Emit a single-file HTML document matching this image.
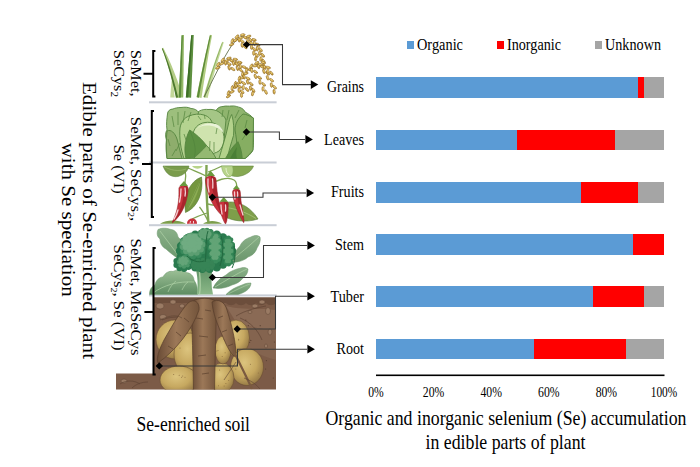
<!DOCTYPE html>
<html><head><meta charset="utf-8"><style>
html,body{margin:0;padding:0;background:#fff;width:700px;height:467px;overflow:hidden}
svg{display:block;font-family:"Liberation Serif", serif;}
</style></head><body>
<svg width="700" height="467" viewBox="0 0 700 467">
<rect width="700" height="467" fill="#fff"/>
<rect x="376" y="77" width="262" height="21" fill="#5B9BD5"/>
<rect x="638" y="77" width="6" height="21" fill="#FF0000"/>
<rect x="644" y="77" width="20" height="21" fill="#A5A5A5"/>
<rect x="376" y="130" width="141" height="20" fill="#5B9BD5"/>
<rect x="517" y="130" width="98" height="20" fill="#FF0000"/>
<rect x="615" y="130" width="49" height="20" fill="#A5A5A5"/>
<rect x="376" y="182" width="205" height="21" fill="#5B9BD5"/>
<rect x="581" y="182" width="57" height="21" fill="#FF0000"/>
<rect x="638" y="182" width="26" height="21" fill="#A5A5A5"/>
<rect x="376" y="234" width="257" height="21" fill="#5B9BD5"/>
<rect x="633" y="234" width="31" height="21" fill="#FF0000"/>
<rect x="376" y="286" width="217" height="21" fill="#5B9BD5"/>
<rect x="593" y="286" width="51" height="21" fill="#FF0000"/>
<rect x="644" y="286" width="20" height="21" fill="#A5A5A5"/>
<rect x="376" y="339" width="158" height="20" fill="#5B9BD5"/>
<rect x="534" y="339" width="92" height="20" fill="#FF0000"/>
<rect x="626" y="339" width="38" height="20" fill="#A5A5A5"/>
<rect x="376" y="374.5" width="288.5" height="1.6" fill="#000"/>
<text x="376.0" y="397" font-size="14.5" text-anchor="middle" textLength="15.5" lengthAdjust="spacingAndGlyphs" >0%</text>
<text x="433.6" y="397" font-size="14.5" text-anchor="middle" textLength="21.5" lengthAdjust="spacingAndGlyphs" >20%</text>
<text x="491.2" y="397" font-size="14.5" text-anchor="middle" textLength="21.5" lengthAdjust="spacingAndGlyphs" >40%</text>
<text x="548.8" y="397" font-size="14.5" text-anchor="middle" textLength="21.5" lengthAdjust="spacingAndGlyphs" >60%</text>
<text x="606.4" y="397" font-size="14.5" text-anchor="middle" textLength="21.5" lengthAdjust="spacingAndGlyphs" >80%</text>
<text x="664.0" y="397" font-size="14.5" text-anchor="middle" textLength="26.5" lengthAdjust="spacingAndGlyphs" >100%</text>
<rect x="407" y="41" width="7" height="8" fill="#5B9BD5"/>
<rect x="497" y="41" width="7" height="8" fill="#FF0000"/>
<rect x="595" y="41" width="7" height="8" fill="#A5A5A5"/>
<text x="417" y="50" font-size="16.5" text-anchor="start" textLength="46" lengthAdjust="spacingAndGlyphs" >Organic</text>
<text x="507" y="50" font-size="16.5" text-anchor="start" textLength="54" lengthAdjust="spacingAndGlyphs" >Inorganic</text>
<text x="605" y="50" font-size="16.5" text-anchor="start" textLength="56" lengthAdjust="spacingAndGlyphs" >Unknown</text>
<text x="327" y="92" font-size="16.5" text-anchor="start" textLength="37" lengthAdjust="spacingAndGlyphs" >Grains</text>
<text x="324" y="144.5" font-size="16.5" text-anchor="start" textLength="40" lengthAdjust="spacingAndGlyphs" >Leaves</text>
<text x="331" y="197" font-size="16.5" text-anchor="start" textLength="33" lengthAdjust="spacingAndGlyphs" >Fruits</text>
<text x="335" y="249.5" font-size="16.5" text-anchor="start" textLength="29" lengthAdjust="spacingAndGlyphs" >Stem</text>
<text x="330.5" y="301.5" font-size="16.5" text-anchor="start" textLength="33.5" lengthAdjust="spacingAndGlyphs" >Tuber</text>
<text x="336.5" y="354" font-size="16.5" text-anchor="start" textLength="27.5" lengthAdjust="spacingAndGlyphs" >Root</text>
<text x="325.5" y="425" font-size="21.5" text-anchor="start" textLength="361" lengthAdjust="spacingAndGlyphs" >Organic and inorganic selenium (Se) accumulation</text>
<text x="425.5" y="449" font-size="21.5" text-anchor="start" textLength="160" lengthAdjust="spacingAndGlyphs" >in edible parts of plant</text>
<text x="136.5" y="430.5" font-size="20.3" text-anchor="start" textLength="113.5" lengthAdjust="spacingAndGlyphs" >Se-enriched soil</text>
<rect x="149" y="101.3" width="127.6" height="2.0" fill="#C9CED6"/>
<rect x="149" y="161.5" width="127.6" height="2.0" fill="#C9CED6"/>
<rect x="149" y="224.2" width="127.6" height="2.0" fill="#C9CED6"/>
<rect x="149" y="294.4" width="127.6" height="2.0" fill="#C9CED6"/>
<path d="M172.6,74.0 L172.4,75.7 L172.1,77.4 L171.9,79.1 L171.7,80.7 L171.5,82.3 L171.4,83.8 L171.2,85.4 L171.1,86.8 L170.9,88.3 L170.8,89.7 L170.7,91.1 L170.6,92.5 L170.5,93.8 L170.4,95.1 L170.3,96.4 L170.3,97.6 L174.7,97.4 L174.6,96.2 L174.4,95.0 L174.3,93.7 L174.1,92.4 L174.0,91.1 L173.9,89.8 L173.8,88.3 L173.7,86.9 L173.6,85.4 L173.6,83.9 L173.5,82.4 L173.5,80.8 L173.4,79.1 L173.4,77.5 L173.4,75.8 L173.4,74.0 Z" fill="#C4D89A"/>
<path d="M161.8,48.3 L162.9,51.1 L164.0,54.0 L165.0,56.9 L166.0,59.8 L167.0,62.8 L168.0,65.9 L168.9,68.9 L169.9,72.0 L170.8,75.2 L171.6,78.4 L172.5,81.6 L173.3,84.8 L174.1,88.1 L174.9,91.5 L175.6,94.9 L176.4,98.3 L182.6,96.7 L181.6,93.3 L180.5,89.9 L179.4,86.6 L178.3,83.3 L177.2,80.1 L176.0,76.9 L174.8,73.8 L173.6,70.7 L172.4,67.7 L171.2,64.7 L169.9,61.7 L168.6,58.8 L167.3,56.0 L165.9,53.2 L164.6,50.4 L163.2,47.7 Z" fill="#B4CD86"/>
<path d="M161.9,48.7 L163.0,51.4 L164.0,54.1 L165.0,57.0 L165.9,59.8 L166.9,62.7 L167.8,65.7 L168.7,68.7 L169.6,71.7 L170.5,74.8 L171.3,77.9 L172.1,81.1 L172.9,84.4 L173.7,87.6 L174.5,91.0 L175.2,94.3 L175.9,97.7 L178.1,97.3 L177.3,93.9 L176.4,90.5 L175.6,87.2 L174.7,83.9 L173.8,80.7 L172.9,77.5 L172.0,74.4 L171.0,71.3 L170.1,68.3 L169.1,65.3 L168.1,62.3 L167.0,59.4 L166.0,56.6 L164.9,53.8 L163.8,51.0 L162.7,48.3 Z" fill="#4E7A2E"/>
<path d="M181.6,35.0 L181.4,38.8 L181.3,42.7 L181.1,46.6 L180.9,50.5 L180.8,54.4 L180.6,58.3 L180.4,62.2 L180.3,66.1 L180.1,70.0 L179.9,73.9 L179.7,77.8 L179.5,81.7 L179.4,85.6 L179.2,89.6 L179.0,93.5 L178.8,97.4 L183.2,97.6 L183.3,93.6 L183.3,89.7 L183.4,85.8 L183.4,81.8 L183.5,77.9 L183.5,74.0 L183.6,70.1 L183.6,66.2 L183.7,62.3 L183.7,58.4 L183.8,54.5 L183.8,50.6 L183.9,46.7 L183.9,42.8 L184.0,38.9 L184.0,35.0 Z" fill="#94B868"/>
<path d="M181.6,35.5 L181.4,39.3 L181.2,43.1 L181.1,46.9 L180.9,50.8 L180.7,54.6 L180.5,58.5 L180.3,62.3 L180.2,66.2 L180.0,70.1 L179.8,74.0 L179.6,77.9 L179.4,81.8 L179.2,85.7 L179.1,89.6 L178.9,93.5 L178.7,97.5 L180.9,97.5 L181.0,93.6 L181.1,89.7 L181.3,85.8 L181.4,81.8 L181.5,77.9 L181.6,74.1 L181.7,70.2 L181.8,66.3 L182.0,62.4 L182.1,58.5 L182.2,54.7 L182.3,50.8 L182.4,47.0 L182.6,43.2 L182.7,39.3 L182.8,35.5 Z" fill="#5A8A3A"/>
<path d="M191.2,34.9 L190.9,38.8 L190.5,42.7 L190.2,46.5 L189.9,50.4 L189.5,54.3 L189.2,58.2 L188.9,62.1 L188.6,66.0 L188.2,69.9 L187.9,73.8 L187.6,77.7 L187.2,81.6 L186.9,85.6 L186.6,89.5 L186.2,93.4 L185.9,97.3 L191.1,97.7 L191.3,93.7 L191.4,89.8 L191.6,85.9 L191.8,81.9 L191.9,78.0 L192.1,74.1 L192.3,70.2 L192.4,66.2 L192.6,62.3 L192.8,58.4 L193.0,54.5 L193.1,50.6 L193.3,46.7 L193.5,42.9 L193.6,39.0 L193.8,35.1 Z" fill="#5E9040"/>
<path d="M191.2,35.5 L190.9,39.3 L190.5,43.1 L190.2,46.9 L189.9,50.8 L189.6,54.6 L189.2,58.5 L188.9,62.3 L188.6,66.2 L188.2,70.1 L187.9,73.9 L187.5,77.8 L187.2,81.7 L186.8,85.6 L186.5,89.6 L186.2,93.5 L185.8,97.4 L188.2,97.6 L188.5,93.7 L188.7,89.7 L189.0,85.8 L189.3,81.9 L189.6,78.0 L189.8,74.1 L190.1,70.2 L190.3,66.3 L190.6,62.4 L190.9,58.6 L191.1,54.7 L191.4,50.9 L191.6,47.0 L191.9,43.2 L192.1,39.4 L192.4,35.5 Z" fill="#3F7028"/>
<path d="M209.9,34.8 L209.0,38.6 L208.1,42.5 L207.3,46.4 L206.4,50.2 L205.5,54.1 L204.7,58.0 L203.8,61.9 L203.0,65.8 L202.1,69.7 L201.3,73.6 L200.5,77.5 L199.7,81.4 L198.9,85.3 L198.1,89.2 L197.3,93.1 L196.5,97.1 L201.5,97.9 L202.1,94.0 L202.7,90.0 L203.3,86.1 L203.9,82.2 L204.6,78.2 L205.2,74.3 L205.9,70.4 L206.5,66.5 L207.2,62.5 L207.9,58.6 L208.5,54.7 L209.2,50.8 L209.9,46.9 L210.6,43.0 L211.4,39.1 L212.1,35.2 Z" fill="#B2CD82"/>
<path d="M209.9,35.4 L209.0,39.2 L208.1,43.0 L207.3,46.8 L206.4,50.7 L205.5,54.5 L204.7,58.4 L203.8,62.2 L203.0,66.1 L202.2,70.0 L201.4,73.8 L200.6,77.7 L199.8,81.6 L199.0,85.5 L198.2,89.5 L197.5,93.4 L196.7,97.3 L198.9,97.7 L199.6,93.8 L200.3,89.8 L200.9,85.9 L201.7,82.0 L202.4,78.1 L203.1,74.2 L203.8,70.3 L204.6,66.4 L205.3,62.5 L206.1,58.7 L206.9,54.8 L207.7,50.9 L208.5,47.1 L209.3,43.3 L210.1,39.4 L210.9,35.6 Z" fill="#5E8C3A"/>
<path d="M222.2,41.7 L220.8,45.2 L219.5,48.6 L218.2,52.1 L217.0,55.6 L215.7,59.0 L214.5,62.5 L213.3,65.9 L212.1,69.4 L211.0,72.9 L209.8,76.3 L208.7,79.7 L207.6,83.2 L206.5,86.6 L205.4,90.0 L204.4,93.5 L203.3,96.9 L207.7,98.1 L208.5,94.6 L209.4,91.2 L210.3,87.7 L211.2,84.3 L212.2,80.8 L213.1,77.3 L214.1,73.8 L215.1,70.3 L216.1,66.9 L217.2,63.4 L218.2,59.9 L219.3,56.4 L220.4,52.9 L221.5,49.3 L222.7,45.8 L223.8,42.3 Z" fill="#C2D898"/>
<path d="M222.2,42.4 L220.9,45.8 L219.6,49.3 L218.4,52.7 L217.1,56.1 L215.9,59.5 L214.7,63.0 L213.5,66.4 L212.4,69.8 L211.2,73.3 L210.1,76.7 L209.0,80.1 L207.9,83.6 L206.9,87.0 L205.8,90.4 L204.8,93.9 L203.8,97.3 L205.2,97.7 L206.1,94.2 L207.1,90.8 L208.1,87.4 L209.1,83.9 L210.1,80.5 L211.2,77.0 L212.2,73.6 L213.3,70.2 L214.4,66.7 L215.6,63.3 L216.7,59.8 L217.9,56.4 L219.1,52.9 L220.3,49.5 L221.5,46.0 L222.8,42.6 Z" fill="#8DB062"/>
<path d="M204,97 C212,82 222,60 232,45 C236,40 240,37 243,36" fill="none" stroke="#4E5E3A" stroke-width="0.8"/>
<ellipse cx="231.7" cy="44.5" rx="2.40" ry="1.10" transform="rotate(-23 231.7 44.5)" fill="#D0A644" stroke="#87621F" stroke-width="0.55"/>
<ellipse cx="231.4" cy="44.2" rx="1.20" ry="0.55" transform="rotate(-23 231.7 44.5)" fill="#E8CC78"/>
<ellipse cx="232.4" cy="40.8" rx="2.40" ry="1.10" transform="rotate(-68 232.4 40.8)" fill="#D8B050" stroke="#87621F" stroke-width="0.55"/>
<ellipse cx="232.1" cy="40.5" rx="1.20" ry="0.55" transform="rotate(-68 232.4 40.8)" fill="#E8CC78"/>
<ellipse cx="235.5" cy="40.3" rx="2.40" ry="1.10" transform="rotate(-32 235.5 40.3)" fill="#D0A644" stroke="#87621F" stroke-width="0.55"/>
<ellipse cx="235.2" cy="40.0" rx="1.20" ry="0.55" transform="rotate(-32 235.5 40.3)" fill="#E8CC78"/>
<ellipse cx="236.9" cy="36.7" rx="2.40" ry="1.10" transform="rotate(-44 236.9 36.7)" fill="#D8B050" stroke="#87621F" stroke-width="0.55"/>
<ellipse cx="236.6" cy="36.4" rx="1.20" ry="0.55" transform="rotate(-44 236.9 36.7)" fill="#E8CC78"/>
<ellipse cx="240.5" cy="37.9" rx="2.40" ry="1.10" transform="rotate(-8 240.5 37.9)" fill="#DDB656" stroke="#87621F" stroke-width="0.55"/>
<ellipse cx="240.2" cy="37.6" rx="1.20" ry="0.55" transform="rotate(-8 240.5 37.9)" fill="#E8CC78"/>
<ellipse cx="242.7" cy="34.9" rx="2.40" ry="1.10" transform="rotate(-9 242.7 34.9)" fill="#D8B050" stroke="#87621F" stroke-width="0.55"/>
<ellipse cx="242.4" cy="34.6" rx="1.20" ry="0.55" transform="rotate(-9 242.7 34.9)" fill="#E8CC78"/>
<ellipse cx="245.2" cy="37.6" rx="2.40" ry="1.10" transform="rotate(28 245.2 37.6)" fill="#C99E3C" stroke="#87621F" stroke-width="0.55"/>
<ellipse cx="244.9" cy="37.3" rx="1.20" ry="0.55" transform="rotate(28 245.2 37.6)" fill="#E8CC78"/>
<ellipse cx="248.7" cy="36.4" rx="2.40" ry="1.10" transform="rotate(-16 248.7 36.4)" fill="#D8B050" stroke="#87621F" stroke-width="0.55"/>
<ellipse cx="248.4" cy="36.1" rx="1.20" ry="0.55" transform="rotate(-16 248.7 36.4)" fill="#E8CC78"/>
<ellipse cx="250.2" cy="39.8" rx="2.40" ry="1.10" transform="rotate(52 250.2 39.8)" fill="#D0A644" stroke="#87621F" stroke-width="0.55"/>
<ellipse cx="249.9" cy="39.5" rx="1.20" ry="0.55" transform="rotate(52 250.2 39.8)" fill="#E8CC78"/>
<ellipse cx="254.0" cy="39.8" rx="2.40" ry="1.10" transform="rotate(15 254.0 39.8)" fill="#C99E3C" stroke="#87621F" stroke-width="0.55"/>
<ellipse cx="253.7" cy="39.5" rx="1.20" ry="0.55" transform="rotate(15 254.0 39.8)" fill="#E8CC78"/>
<ellipse cx="254.4" cy="43.4" rx="2.40" ry="1.10" transform="rotate(80 254.4 43.4)" fill="#D8B050" stroke="#87621F" stroke-width="0.55"/>
<ellipse cx="254.1" cy="43.1" rx="1.20" ry="0.55" transform="rotate(80 254.4 43.4)" fill="#E8CC78"/>
<ellipse cx="257.9" cy="44.7" rx="2.40" ry="1.10" transform="rotate(34 257.9 44.7)" fill="#C99E3C" stroke="#87621F" stroke-width="0.55"/>
<ellipse cx="257.6" cy="44.4" rx="1.20" ry="0.55" transform="rotate(34 257.9 44.7)" fill="#E8CC78"/>
<ellipse cx="257.3" cy="48.5" rx="2.40" ry="1.10" transform="rotate(86 257.3 48.5)" fill="#C99E3C" stroke="#87621F" stroke-width="0.55"/>
<ellipse cx="257.0" cy="48.2" rx="1.20" ry="0.55" transform="rotate(86 257.3 48.5)" fill="#E8CC78"/>
<ellipse cx="260.6" cy="49.7" rx="2.40" ry="1.10" transform="rotate(49 260.6 49.7)" fill="#D8B050" stroke="#87621F" stroke-width="0.55"/>
<ellipse cx="260.3" cy="49.4" rx="1.20" ry="0.55" transform="rotate(49 260.6 49.7)" fill="#E8CC78"/>
<ellipse cx="259.6" cy="53.3" rx="2.40" ry="1.10" transform="rotate(92 259.6 53.3)" fill="#D0A644" stroke="#87621F" stroke-width="0.55"/>
<ellipse cx="259.3" cy="53.0" rx="1.20" ry="0.55" transform="rotate(92 259.6 53.3)" fill="#E8CC78"/>
<ellipse cx="262.8" cy="55.2" rx="2.40" ry="1.10" transform="rotate(49 262.8 55.2)" fill="#C99E3C" stroke="#87621F" stroke-width="0.55"/>
<ellipse cx="262.5" cy="54.9" rx="1.20" ry="0.55" transform="rotate(49 262.8 55.2)" fill="#E8CC78"/>
<ellipse cx="260.9" cy="58.8" rx="2.40" ry="1.10" transform="rotate(100 260.9 58.8)" fill="#DDB656" stroke="#87621F" stroke-width="0.55"/>
<ellipse cx="260.6" cy="58.5" rx="1.20" ry="0.55" transform="rotate(100 260.9 58.8)" fill="#E8CC78"/>
<ellipse cx="263.5" cy="61.1" rx="2.40" ry="1.10" transform="rotate(52 263.5 61.1)" fill="#D0A644" stroke="#87621F" stroke-width="0.55"/>
<ellipse cx="263.2" cy="60.8" rx="1.20" ry="0.55" transform="rotate(52 263.5 61.1)" fill="#E8CC78"/>
<ellipse cx="247.7" cy="42.0" rx="2.40" ry="1.10" transform="rotate(81 247.7 42.0)" fill="#DDB656" stroke="#87621F" stroke-width="0.55"/>
<ellipse cx="247.4" cy="41.7" rx="1.20" ry="0.55" transform="rotate(81 247.7 42.0)" fill="#E8CC78"/>
<ellipse cx="251.4" cy="43.3" rx="2.40" ry="1.10" transform="rotate(37 251.4 43.3)" fill="#D0A644" stroke="#87621F" stroke-width="0.55"/>
<ellipse cx="251.1" cy="43.0" rx="1.20" ry="0.55" transform="rotate(37 251.4 43.3)" fill="#E8CC78"/>
<ellipse cx="251.5" cy="47.0" rx="2.40" ry="1.10" transform="rotate(91 251.5 47.0)" fill="#DDB656" stroke="#87621F" stroke-width="0.55"/>
<ellipse cx="251.2" cy="46.7" rx="1.20" ry="0.55" transform="rotate(91 251.5 47.0)" fill="#E8CC78"/>
<ellipse cx="254.3" cy="49.3" rx="2.40" ry="1.10" transform="rotate(39 254.3 49.3)" fill="#D8B050" stroke="#87621F" stroke-width="0.55"/>
<ellipse cx="254.0" cy="49.0" rx="1.20" ry="0.55" transform="rotate(39 254.3 49.3)" fill="#E8CC78"/>
<ellipse cx="253.7" cy="53.1" rx="2.40" ry="1.10" transform="rotate(89 253.7 53.1)" fill="#D8B050" stroke="#87621F" stroke-width="0.55"/>
<ellipse cx="253.4" cy="52.8" rx="1.20" ry="0.55" transform="rotate(89 253.7 53.1)" fill="#E8CC78"/>
<ellipse cx="256.7" cy="55.2" rx="2.40" ry="1.10" transform="rotate(58 256.7 55.2)" fill="#DDB656" stroke="#87621F" stroke-width="0.55"/>
<ellipse cx="256.4" cy="54.9" rx="1.20" ry="0.55" transform="rotate(58 256.7 55.2)" fill="#E8CC78"/>
<ellipse cx="255.7" cy="58.7" rx="2.40" ry="1.10" transform="rotate(95 255.7 58.7)" fill="#C99E3C" stroke="#87621F" stroke-width="0.55"/>
<ellipse cx="255.4" cy="58.4" rx="1.20" ry="0.55" transform="rotate(95 255.7 58.7)" fill="#E8CC78"/>
<ellipse cx="239.0" cy="39.8" rx="2.40" ry="1.10" transform="rotate(77 239.0 39.8)" fill="#D0A644" stroke="#87621F" stroke-width="0.55"/>
<ellipse cx="238.7" cy="39.5" rx="1.20" ry="0.55" transform="rotate(77 239.0 39.8)" fill="#E8CC78"/>
<ellipse cx="242.2" cy="41.3" rx="2.40" ry="1.10" transform="rotate(33 242.2 41.3)" fill="#DDB656" stroke="#87621F" stroke-width="0.55"/>
<ellipse cx="241.9" cy="41.0" rx="1.20" ry="0.55" transform="rotate(33 242.2 41.3)" fill="#E8CC78"/>
<ellipse cx="242.1" cy="45.1" rx="2.40" ry="1.10" transform="rotate(82 242.1 45.1)" fill="#D8B050" stroke="#87621F" stroke-width="0.55"/>
<ellipse cx="241.8" cy="44.8" rx="1.20" ry="0.55" transform="rotate(82 242.1 45.1)" fill="#E8CC78"/>
<ellipse cx="245.2" cy="47.0" rx="2.40" ry="1.10" transform="rotate(42 245.2 47.0)" fill="#D8B050" stroke="#87621F" stroke-width="0.55"/>
<ellipse cx="244.9" cy="46.7" rx="1.20" ry="0.55" transform="rotate(42 245.2 47.0)" fill="#E8CC78"/>
<ellipse cx="217.9" cy="67.8" rx="2.40" ry="1.10" transform="rotate(-21 217.9 67.8)" fill="#D0A644" stroke="#87621F" stroke-width="0.55"/>
<ellipse cx="217.6" cy="67.5" rx="1.20" ry="0.55" transform="rotate(-21 217.9 67.8)" fill="#E8CC78"/>
<ellipse cx="218.3" cy="64.4" rx="2.40" ry="1.10" transform="rotate(-60 218.3 64.4)" fill="#DDB656" stroke="#87621F" stroke-width="0.55"/>
<ellipse cx="218.0" cy="64.1" rx="1.20" ry="0.55" transform="rotate(-60 218.3 64.4)" fill="#E8CC78"/>
<ellipse cx="221.9" cy="63.6" rx="2.40" ry="1.10" transform="rotate(-23 221.9 63.6)" fill="#DDB656" stroke="#87621F" stroke-width="0.55"/>
<ellipse cx="221.6" cy="63.3" rx="1.20" ry="0.55" transform="rotate(-23 221.9 63.6)" fill="#E8CC78"/>
<ellipse cx="222.8" cy="60.0" rx="2.40" ry="1.10" transform="rotate(-53 222.8 60.0)" fill="#D8B050" stroke="#87621F" stroke-width="0.55"/>
<ellipse cx="222.5" cy="59.7" rx="1.20" ry="0.55" transform="rotate(-53 222.8 60.0)" fill="#E8CC78"/>
<ellipse cx="226.4" cy="61.0" rx="2.40" ry="1.10" transform="rotate(-11 226.4 61.0)" fill="#D8B050" stroke="#87621F" stroke-width="0.55"/>
<ellipse cx="226.1" cy="60.7" rx="1.20" ry="0.55" transform="rotate(-11 226.4 61.0)" fill="#E8CC78"/>
<ellipse cx="229.0" cy="58.3" rx="2.40" ry="1.10" transform="rotate(-11 229.0 58.3)" fill="#D0A644" stroke="#87621F" stroke-width="0.55"/>
<ellipse cx="228.7" cy="58.0" rx="1.20" ry="0.55" transform="rotate(-11 229.0 58.3)" fill="#E8CC78"/>
<ellipse cx="231.7" cy="60.8" rx="2.40" ry="1.10" transform="rotate(26 231.7 60.8)" fill="#C99E3C" stroke="#87621F" stroke-width="0.55"/>
<ellipse cx="231.4" cy="60.5" rx="1.20" ry="0.55" transform="rotate(26 231.7 60.8)" fill="#E8CC78"/>
<ellipse cx="235.3" cy="59.4" rx="2.40" ry="1.10" transform="rotate(11 235.3 59.4)" fill="#D0A644" stroke="#87621F" stroke-width="0.55"/>
<ellipse cx="235.0" cy="59.1" rx="1.20" ry="0.55" transform="rotate(11 235.3 59.4)" fill="#E8CC78"/>
<ellipse cx="236.5" cy="63.1" rx="2.40" ry="1.10" transform="rotate(55 236.5 63.1)" fill="#DDB656" stroke="#87621F" stroke-width="0.55"/>
<ellipse cx="236.2" cy="62.8" rx="1.20" ry="0.55" transform="rotate(55 236.5 63.1)" fill="#E8CC78"/>
<ellipse cx="239.8" cy="62.4" rx="2.40" ry="1.10" transform="rotate(16 239.8 62.4)" fill="#C99E3C" stroke="#87621F" stroke-width="0.55"/>
<ellipse cx="239.5" cy="62.1" rx="1.20" ry="0.55" transform="rotate(16 239.8 62.4)" fill="#E8CC78"/>
<ellipse cx="240.4" cy="66.4" rx="2.40" ry="1.10" transform="rotate(74 240.4 66.4)" fill="#D8B050" stroke="#87621F" stroke-width="0.55"/>
<ellipse cx="240.1" cy="66.1" rx="1.20" ry="0.55" transform="rotate(74 240.4 66.4)" fill="#E8CC78"/>
<ellipse cx="244.2" cy="67.2" rx="2.40" ry="1.10" transform="rotate(24 244.2 67.2)" fill="#D0A644" stroke="#87621F" stroke-width="0.55"/>
<ellipse cx="243.9" cy="66.9" rx="1.20" ry="0.55" transform="rotate(24 244.2 67.2)" fill="#E8CC78"/>
<ellipse cx="225.3" cy="62.8" rx="2.40" ry="1.10" transform="rotate(76 225.3 62.8)" fill="#D0A644" stroke="#87621F" stroke-width="0.55"/>
<ellipse cx="225.0" cy="62.5" rx="1.20" ry="0.55" transform="rotate(76 225.3 62.8)" fill="#E8CC78"/>
<ellipse cx="229.0" cy="63.9" rx="2.40" ry="1.10" transform="rotate(27 229.0 63.9)" fill="#D8B050" stroke="#87621F" stroke-width="0.55"/>
<ellipse cx="228.7" cy="63.6" rx="1.20" ry="0.55" transform="rotate(27 229.0 63.9)" fill="#E8CC78"/>
<ellipse cx="229.1" cy="67.8" rx="2.40" ry="1.10" transform="rotate(74 229.1 67.8)" fill="#C99E3C" stroke="#87621F" stroke-width="0.55"/>
<ellipse cx="228.8" cy="67.5" rx="1.20" ry="0.55" transform="rotate(74 229.1 67.8)" fill="#E8CC78"/>
<ellipse cx="232.9" cy="69.1" rx="2.40" ry="1.10" transform="rotate(34 232.9 69.1)" fill="#D8B050" stroke="#87621F" stroke-width="0.55"/>
<ellipse cx="232.6" cy="68.8" rx="1.20" ry="0.55" transform="rotate(34 232.9 69.1)" fill="#E8CC78"/>
<ellipse cx="233.4" cy="63.2" rx="2.40" ry="1.10" transform="rotate(77 233.4 63.2)" fill="#D8B050" stroke="#87621F" stroke-width="0.55"/>
<ellipse cx="233.1" cy="62.9" rx="1.20" ry="0.55" transform="rotate(77 233.4 63.2)" fill="#E8CC78"/>
<ellipse cx="236.9" cy="64.3" rx="2.40" ry="1.10" transform="rotate(33 236.9 64.3)" fill="#D0A644" stroke="#87621F" stroke-width="0.55"/>
<ellipse cx="236.6" cy="64.0" rx="1.20" ry="0.55" transform="rotate(33 236.9 64.3)" fill="#E8CC78"/>
<ellipse cx="237.4" cy="68.3" rx="2.40" ry="1.10" transform="rotate(73 237.4 68.3)" fill="#C99E3C" stroke="#87621F" stroke-width="0.55"/>
<ellipse cx="237.1" cy="68.0" rx="1.20" ry="0.55" transform="rotate(73 237.4 68.3)" fill="#E8CC78"/>
<ellipse cx="240.9" cy="70.2" rx="2.40" ry="1.10" transform="rotate(42 240.9 70.2)" fill="#C99E3C" stroke="#87621F" stroke-width="0.55"/>
<ellipse cx="240.6" cy="69.9" rx="1.20" ry="0.55" transform="rotate(42 240.9 70.2)" fill="#E8CC78"/>
<ellipse cx="228.5" cy="96.2" rx="2.40" ry="1.10" transform="rotate(-33 228.5 96.2)" fill="#C99E3C" stroke="#87621F" stroke-width="0.55"/>
<ellipse cx="228.2" cy="95.9" rx="1.20" ry="0.55" transform="rotate(-33 228.5 96.2)" fill="#E8CC78"/>
<ellipse cx="228.5" cy="92.9" rx="2.40" ry="1.10" transform="rotate(-70 228.5 92.9)" fill="#D0A644" stroke="#87621F" stroke-width="0.55"/>
<ellipse cx="228.2" cy="92.6" rx="1.20" ry="0.55" transform="rotate(-70 228.5 92.9)" fill="#E8CC78"/>
<ellipse cx="232.1" cy="91.8" rx="2.40" ry="1.10" transform="rotate(-28 232.1 91.8)" fill="#D0A644" stroke="#87621F" stroke-width="0.55"/>
<ellipse cx="231.8" cy="91.5" rx="1.20" ry="0.55" transform="rotate(-28 232.1 91.8)" fill="#E8CC78"/>
<ellipse cx="232.3" cy="87.8" rx="2.40" ry="1.10" transform="rotate(-77 232.3 87.8)" fill="#D8B050" stroke="#87621F" stroke-width="0.55"/>
<ellipse cx="232.0" cy="87.5" rx="1.20" ry="0.55" transform="rotate(-77 232.3 87.8)" fill="#E8CC78"/>
<ellipse cx="235.6" cy="86.9" rx="2.40" ry="1.10" transform="rotate(-27 235.6 86.9)" fill="#C99E3C" stroke="#87621F" stroke-width="0.55"/>
<ellipse cx="235.3" cy="86.6" rx="1.20" ry="0.55" transform="rotate(-27 235.6 86.9)" fill="#E8CC78"/>
<ellipse cx="235.3" cy="83.7" rx="2.40" ry="1.10" transform="rotate(-72 235.3 83.7)" fill="#DDB656" stroke="#87621F" stroke-width="0.55"/>
<ellipse cx="235.0" cy="83.4" rx="1.20" ry="0.55" transform="rotate(-72 235.3 83.7)" fill="#E8CC78"/>
<ellipse cx="239.0" cy="82.7" rx="2.40" ry="1.10" transform="rotate(-28 239.0 82.7)" fill="#D8B050" stroke="#87621F" stroke-width="0.55"/>
<ellipse cx="238.7" cy="82.4" rx="1.20" ry="0.55" transform="rotate(-28 239.0 82.7)" fill="#E8CC78"/>
<ellipse cx="239.4" cy="78.4" rx="2.40" ry="1.10" transform="rotate(-74 239.4 78.4)" fill="#DDB656" stroke="#87621F" stroke-width="0.55"/>
<ellipse cx="239.1" cy="78.1" rx="1.20" ry="0.55" transform="rotate(-74 239.4 78.4)" fill="#E8CC78"/>
<ellipse cx="242.8" cy="77.5" rx="2.40" ry="1.10" transform="rotate(-26 242.8 77.5)" fill="#DDB656" stroke="#87621F" stroke-width="0.55"/>
<ellipse cx="242.5" cy="77.2" rx="1.20" ry="0.55" transform="rotate(-26 242.8 77.5)" fill="#E8CC78"/>
<ellipse cx="242.7" cy="74.0" rx="2.40" ry="1.10" transform="rotate(-74 242.7 74.0)" fill="#D8B050" stroke="#87621F" stroke-width="0.55"/>
<ellipse cx="242.4" cy="73.7" rx="1.20" ry="0.55" transform="rotate(-74 242.7 74.0)" fill="#E8CC78"/>
<ellipse cx="245.9" cy="73.5" rx="2.40" ry="1.10" transform="rotate(-19 245.9 73.5)" fill="#D0A644" stroke="#87621F" stroke-width="0.55"/>
<ellipse cx="245.6" cy="73.2" rx="1.20" ry="0.55" transform="rotate(-19 245.9 73.5)" fill="#E8CC78"/>
<ellipse cx="246.7" cy="70.0" rx="2.40" ry="1.10" transform="rotate(-68 246.7 70.0)" fill="#D8B050" stroke="#87621F" stroke-width="0.55"/>
<ellipse cx="246.4" cy="69.7" rx="1.20" ry="0.55" transform="rotate(-68 246.7 70.0)" fill="#E8CC78"/>
<ellipse cx="250.5" cy="69.1" rx="2.40" ry="1.10" transform="rotate(-27 250.5 69.1)" fill="#C99E3C" stroke="#87621F" stroke-width="0.55"/>
<ellipse cx="250.2" cy="68.8" rx="1.20" ry="0.55" transform="rotate(-27 250.5 69.1)" fill="#E8CC78"/>
<ellipse cx="251.3" cy="66.0" rx="2.40" ry="1.10" transform="rotate(-58 251.3 66.0)" fill="#DDB656" stroke="#87621F" stroke-width="0.55"/>
<ellipse cx="251.0" cy="65.7" rx="1.20" ry="0.55" transform="rotate(-58 251.3 66.0)" fill="#E8CC78"/>
<ellipse cx="255.1" cy="65.8" rx="2.40" ry="1.10" transform="rotate(-8 255.1 65.8)" fill="#DDB656" stroke="#87621F" stroke-width="0.55"/>
<ellipse cx="254.8" cy="65.5" rx="1.20" ry="0.55" transform="rotate(-8 255.1 65.8)" fill="#E8CC78"/>
<ellipse cx="256.8" cy="63.0" rx="2.40" ry="1.10" transform="rotate(-31 256.8 63.0)" fill="#D8B050" stroke="#87621F" stroke-width="0.55"/>
<ellipse cx="256.5" cy="62.7" rx="1.20" ry="0.55" transform="rotate(-31 256.8 63.0)" fill="#E8CC78"/>
<ellipse cx="259.9" cy="64.5" rx="2.40" ry="1.10" transform="rotate(5 259.9 64.5)" fill="#DDB656" stroke="#87621F" stroke-width="0.55"/>
<ellipse cx="259.6" cy="64.2" rx="1.20" ry="0.55" transform="rotate(5 259.9 64.5)" fill="#E8CC78"/>
<ellipse cx="263.3" cy="62.6" rx="2.40" ry="1.10" transform="rotate(19 263.3 62.6)" fill="#D8B050" stroke="#87621F" stroke-width="0.55"/>
<ellipse cx="263.0" cy="62.3" rx="1.20" ry="0.55" transform="rotate(19 263.3 62.6)" fill="#E8CC78"/>
<ellipse cx="264.0" cy="66.0" rx="2.40" ry="1.10" transform="rotate(62 264.0 66.0)" fill="#D0A644" stroke="#87621F" stroke-width="0.55"/>
<ellipse cx="263.7" cy="65.7" rx="1.20" ry="0.55" transform="rotate(62 264.0 66.0)" fill="#E8CC78"/>
<ellipse cx="235.8" cy="85.8" rx="2.40" ry="1.10" transform="rotate(79 235.8 85.8)" fill="#D0A644" stroke="#87621F" stroke-width="0.55"/>
<ellipse cx="235.5" cy="85.5" rx="1.20" ry="0.55" transform="rotate(79 235.8 85.8)" fill="#E8CC78"/>
<ellipse cx="239.5" cy="86.6" rx="2.40" ry="1.10" transform="rotate(29 239.5 86.6)" fill="#D0A644" stroke="#87621F" stroke-width="0.55"/>
<ellipse cx="239.2" cy="86.3" rx="1.20" ry="0.55" transform="rotate(29 239.5 86.6)" fill="#E8CC78"/>
<ellipse cx="239.1" cy="90.4" rx="2.40" ry="1.10" transform="rotate(79 239.1 90.4)" fill="#D0A644" stroke="#87621F" stroke-width="0.55"/>
<ellipse cx="238.8" cy="90.1" rx="1.20" ry="0.55" transform="rotate(79 239.1 90.4)" fill="#E8CC78"/>
<ellipse cx="242.1" cy="91.8" rx="2.40" ry="1.10" transform="rotate(42 242.1 91.8)" fill="#D8B050" stroke="#87621F" stroke-width="0.55"/>
<ellipse cx="241.8" cy="91.5" rx="1.20" ry="0.55" transform="rotate(42 242.1 91.8)" fill="#E8CC78"/>
<ellipse cx="241.5" cy="95.2" rx="2.40" ry="1.10" transform="rotate(86 241.5 95.2)" fill="#DDB656" stroke="#87621F" stroke-width="0.55"/>
<ellipse cx="241.2" cy="94.9" rx="1.20" ry="0.55" transform="rotate(86 241.5 95.2)" fill="#E8CC78"/>
<ellipse cx="244.0" cy="76.8" rx="2.40" ry="1.10" transform="rotate(77 244.0 76.8)" fill="#C99E3C" stroke="#87621F" stroke-width="0.55"/>
<ellipse cx="243.7" cy="76.5" rx="1.20" ry="0.55" transform="rotate(77 244.0 76.8)" fill="#E8CC78"/>
<ellipse cx="248.0" cy="78.5" rx="2.40" ry="1.10" transform="rotate(28 248.0 78.5)" fill="#DDB656" stroke="#87621F" stroke-width="0.55"/>
<ellipse cx="247.7" cy="78.2" rx="1.20" ry="0.55" transform="rotate(28 248.0 78.5)" fill="#E8CC78"/>
<ellipse cx="247.6" cy="82.0" rx="2.40" ry="1.10" transform="rotate(76 247.6 82.0)" fill="#D0A644" stroke="#87621F" stroke-width="0.55"/>
<ellipse cx="247.3" cy="81.7" rx="1.20" ry="0.55" transform="rotate(76 247.6 82.0)" fill="#E8CC78"/>
<ellipse cx="251.2" cy="84.0" rx="2.40" ry="1.10" transform="rotate(40 251.2 84.0)" fill="#C99E3C" stroke="#87621F" stroke-width="0.55"/>
<ellipse cx="250.9" cy="83.7" rx="1.20" ry="0.55" transform="rotate(40 251.2 84.0)" fill="#E8CC78"/>
<ellipse cx="250.5" cy="88.1" rx="2.40" ry="1.10" transform="rotate(83 250.5 88.1)" fill="#C99E3C" stroke="#87621F" stroke-width="0.55"/>
<ellipse cx="250.2" cy="87.8" rx="1.20" ry="0.55" transform="rotate(83 250.5 88.1)" fill="#E8CC78"/>
<ellipse cx="253.3" cy="90.3" rx="2.40" ry="1.10" transform="rotate(57 253.3 90.3)" fill="#D8B050" stroke="#87621F" stroke-width="0.55"/>
<ellipse cx="253.0" cy="90.0" rx="1.20" ry="0.55" transform="rotate(57 253.3 90.3)" fill="#E8CC78"/>
<ellipse cx="252.6" cy="93.6" rx="2.40" ry="1.10" transform="rotate(100 252.6 93.6)" fill="#D8B050" stroke="#87621F" stroke-width="0.55"/>
<ellipse cx="252.3" cy="93.3" rx="1.20" ry="0.55" transform="rotate(100 252.6 93.6)" fill="#E8CC78"/>
<ellipse cx="251.5" cy="70.4" rx="2.40" ry="1.10" transform="rotate(71 251.5 70.4)" fill="#DDB656" stroke="#87621F" stroke-width="0.55"/>
<ellipse cx="251.2" cy="70.1" rx="1.20" ry="0.55" transform="rotate(71 251.5 70.4)" fill="#E8CC78"/>
<ellipse cx="255.5" cy="71.9" rx="2.40" ry="1.10" transform="rotate(31 255.5 71.9)" fill="#C99E3C" stroke="#87621F" stroke-width="0.55"/>
<ellipse cx="255.2" cy="71.6" rx="1.20" ry="0.55" transform="rotate(31 255.5 71.9)" fill="#E8CC78"/>
<ellipse cx="255.4" cy="76.4" rx="2.40" ry="1.10" transform="rotate(69 255.4 76.4)" fill="#DDB656" stroke="#87621F" stroke-width="0.55"/>
<ellipse cx="255.1" cy="76.1" rx="1.20" ry="0.55" transform="rotate(69 255.4 76.4)" fill="#E8CC78"/>
<ellipse cx="259.5" cy="77.7" rx="2.40" ry="1.10" transform="rotate(30 259.5 77.7)" fill="#C99E3C" stroke="#87621F" stroke-width="0.55"/>
<ellipse cx="259.2" cy="77.4" rx="1.20" ry="0.55" transform="rotate(30 259.5 77.7)" fill="#E8CC78"/>
<ellipse cx="259.9" cy="82.1" rx="2.40" ry="1.10" transform="rotate(84 259.9 82.1)" fill="#D8B050" stroke="#87621F" stroke-width="0.55"/>
<ellipse cx="259.6" cy="81.8" rx="1.20" ry="0.55" transform="rotate(84 259.9 82.1)" fill="#E8CC78"/>
<ellipse cx="263.6" cy="84.4" rx="2.40" ry="1.10" transform="rotate(41 263.6 84.4)" fill="#D0A644" stroke="#87621F" stroke-width="0.55"/>
<ellipse cx="263.3" cy="84.1" rx="1.20" ry="0.55" transform="rotate(41 263.6 84.4)" fill="#E8CC78"/>
<ellipse cx="263.0" cy="88.8" rx="2.40" ry="1.10" transform="rotate(93 263.0 88.8)" fill="#DDB656" stroke="#87621F" stroke-width="0.55"/>
<ellipse cx="262.7" cy="88.5" rx="1.20" ry="0.55" transform="rotate(93 263.0 88.8)" fill="#E8CC78"/>
<ellipse cx="265.9" cy="92.1" rx="2.40" ry="1.10" transform="rotate(64 265.9 92.1)" fill="#DDB656" stroke="#87621F" stroke-width="0.55"/>
<ellipse cx="265.6" cy="91.8" rx="1.20" ry="0.55" transform="rotate(64 265.9 92.1)" fill="#E8CC78"/>
<ellipse cx="258.4" cy="66.4" rx="2.40" ry="1.10" transform="rotate(68 258.4 66.4)" fill="#C99E3C" stroke="#87621F" stroke-width="0.55"/>
<ellipse cx="258.1" cy="66.1" rx="1.20" ry="0.55" transform="rotate(68 258.4 66.4)" fill="#E8CC78"/>
<ellipse cx="262.6" cy="67.0" rx="2.40" ry="1.10" transform="rotate(26 262.6 67.0)" fill="#DDB656" stroke="#87621F" stroke-width="0.55"/>
<ellipse cx="262.3" cy="66.7" rx="1.20" ry="0.55" transform="rotate(26 262.6 67.0)" fill="#E8CC78"/>
<ellipse cx="263.9" cy="71.4" rx="2.40" ry="1.10" transform="rotate(72 263.9 71.4)" fill="#D0A644" stroke="#87621F" stroke-width="0.55"/>
<ellipse cx="263.6" cy="71.1" rx="1.20" ry="0.55" transform="rotate(72 263.9 71.4)" fill="#E8CC78"/>
<ellipse cx="267.7" cy="73.3" rx="2.40" ry="1.10" transform="rotate(42 267.7 73.3)" fill="#D0A644" stroke="#87621F" stroke-width="0.55"/>
<ellipse cx="267.4" cy="73.0" rx="1.20" ry="0.55" transform="rotate(42 267.7 73.3)" fill="#E8CC78"/>
<ellipse cx="267.6" cy="77.8" rx="2.40" ry="1.10" transform="rotate(72 267.6 77.8)" fill="#DDB656" stroke="#87621F" stroke-width="0.55"/>
<ellipse cx="267.3" cy="77.5" rx="1.20" ry="0.55" transform="rotate(72 267.6 77.8)" fill="#E8CC78"/>
<ellipse cx="271.6" cy="80.2" rx="2.40" ry="1.10" transform="rotate(36 271.6 80.2)" fill="#D8B050" stroke="#87621F" stroke-width="0.55"/>
<ellipse cx="271.3" cy="79.9" rx="1.20" ry="0.55" transform="rotate(36 271.6 80.2)" fill="#E8CC78"/>
<ellipse cx="271.4" cy="85.0" rx="2.40" ry="1.10" transform="rotate(82 271.4 85.0)" fill="#D8B050" stroke="#87621F" stroke-width="0.55"/>
<ellipse cx="271.1" cy="84.7" rx="1.20" ry="0.55" transform="rotate(82 271.4 85.0)" fill="#E8CC78"/>
<ellipse cx="274.6" cy="87.2" rx="2.40" ry="1.10" transform="rotate(42 274.6 87.2)" fill="#D8B050" stroke="#87621F" stroke-width="0.55"/>
<ellipse cx="274.3" cy="86.9" rx="1.20" ry="0.55" transform="rotate(42 274.6 87.2)" fill="#E8CC78"/>
<ellipse cx="274.1" cy="91.7" rx="2.40" ry="1.10" transform="rotate(84 274.1 91.7)" fill="#C99E3C" stroke="#87621F" stroke-width="0.55"/>
<ellipse cx="273.8" cy="91.4" rx="1.20" ry="0.55" transform="rotate(84 274.1 91.7)" fill="#E8CC78"/>
<ellipse cx="264.5" cy="67.2" rx="2.40" ry="1.10" transform="rotate(60 264.5 67.2)" fill="#D0A644" stroke="#87621F" stroke-width="0.55"/>
<ellipse cx="264.2" cy="66.9" rx="1.20" ry="0.55" transform="rotate(60 264.5 67.2)" fill="#E8CC78"/>
<ellipse cx="268.2" cy="67.5" rx="2.40" ry="1.10" transform="rotate(18 268.2 67.5)" fill="#DDB656" stroke="#87621F" stroke-width="0.55"/>
<ellipse cx="267.9" cy="67.2" rx="1.20" ry="0.55" transform="rotate(18 268.2 67.5)" fill="#E8CC78"/>
<ellipse cx="267.8" cy="71.3" rx="2.40" ry="1.10" transform="rotate(88 267.8 71.3)" fill="#DDB656" stroke="#87621F" stroke-width="0.55"/>
<ellipse cx="267.5" cy="71.0" rx="1.20" ry="0.55" transform="rotate(88 267.8 71.3)" fill="#E8CC78"/>
<ellipse cx="271.4" cy="73.2" rx="2.40" ry="1.10" transform="rotate(48 271.4 73.2)" fill="#C99E3C" stroke="#87621F" stroke-width="0.55"/>
<ellipse cx="271.1" cy="72.9" rx="1.20" ry="0.55" transform="rotate(48 271.4 73.2)" fill="#E8CC78"/>
<ellipse cx="240.1" cy="81.4" rx="2.40" ry="1.10" transform="rotate(80 240.1 81.4)" fill="#D8B050" stroke="#87621F" stroke-width="0.55"/>
<ellipse cx="239.8" cy="81.1" rx="1.20" ry="0.55" transform="rotate(80 240.1 81.4)" fill="#E8CC78"/>
<ellipse cx="243.6" cy="83.2" rx="2.40" ry="1.10" transform="rotate(31 243.6 83.2)" fill="#D8B050" stroke="#87621F" stroke-width="0.55"/>
<ellipse cx="243.3" cy="82.9" rx="1.20" ry="0.55" transform="rotate(31 243.6 83.2)" fill="#E8CC78"/>
<ellipse cx="243.2" cy="87.6" rx="2.40" ry="1.10" transform="rotate(92 243.2 87.6)" fill="#DDB656" stroke="#87621F" stroke-width="0.55"/>
<ellipse cx="242.9" cy="87.3" rx="1.20" ry="0.55" transform="rotate(92 243.2 87.6)" fill="#E8CC78"/>
<ellipse cx="247.0" cy="89.6" rx="2.40" ry="1.10" transform="rotate(47 247.0 89.6)" fill="#C99E3C" stroke="#87621F" stroke-width="0.55"/>
<ellipse cx="246.7" cy="89.3" rx="1.20" ry="0.55" transform="rotate(47 247.0 89.6)" fill="#E8CC78"/>
<g stroke="#55853E" stroke-width="0.9" stroke-linejoin="round">
<path d="M215,113 C216,109 219,106.5 223,106.5 C226,105.5 229,106.5 231,106 C235,105.5 238,107 240,107.5 C243,108.5 244.5,110.5 245,112 C248,113.5 251,115.5 253,118 C253.5,124 253,132 253.5,140 C253.5,146 253,150 252.5,151 C250.5,154 248,156.5 245,158.5 L212,158.5 Z" fill="#8FB46E"/>
<path d="M243,114 C238,118 235,124 235,130 C236,136 237,142 237,148 L240,158.5 L245,158.5 C248,156 251,153 253,150 L253.5,118 C250,116 246,114 243,114 Z" fill="#86AE62"/>
<path d="M196,114 C199,110 204,109 208,109.5 C212,109 216,110 219,112 C222,114 225,117 226,120 L222,158.5 L200,158.5 Z" fill="#A5C686"/>
<path d="M167.5,114 C167.5,111 170,109 173,109 C175,108 178,107.5 181,107.5 C185,107 188,107 191,108.5 C194,108.5 197,110 198.5,112 L197,120 L190,158.5 L167,158.5 C166,152 166,146 166.5,140 C165,136 165.5,132 167,130 C166,124 167,118 167.5,114 Z" fill="#9DBF7D"/>
<path d="M167,131 C171,129 175,133 177,139 C179,146 180,152 182,158.5 L167,158.5 C166,150 166,140 167,131 Z" fill="#8EAD6C"/>
<path d="M180,128 C181,122 184,118 189,116 C194,114 199,113.5 204,115 C209,116.5 212,120 212.5,125 L206,158.5 L184,158.5 C181,150 179,138 180,128 Z" fill="#B5D390"/>
<path d="M192.8,137 C192.8,128 198.5,123.5 205,122.5 C212,121.5 219.5,124 222.5,131 C225.5,138 224,146 219,151 C213,155 203,155 198,151 C194,147 192.8,142 192.8,137 Z" fill="#CFE3AE"/>
<path d="M197,129 C201,124 209,122.5 216,124 C221,126 223,130 223.5,133 C220,128 214,125.5 207,125.5 C202,125.5 199,127 197,129 Z" fill="#EAF3D8" stroke="none"/>
<path d="M189.7,130 C196,134 202,139.5 206.5,145.5 C203,150 198,154 193.5,157.5 L186,158.5 C184,151 184.5,140 189.7,130 Z" fill="#5C9042"/>
<path d="M206.5,145.5 C211,150 214,154 216,158.5 L193.5,158.5 C198,154 203,150 206.5,145.5 Z" fill="#94B972"/>
<path d="M190,131 C194,140 197,150 194,158" fill="none" stroke="#4F823A" stroke-width="0.6"/>
<path d="M231.7,114.5 C234,122 234,130 233.5,135.5 C231,144 229,150 227.3,158.5 L219,158.5 C222,148 226,136 228,126 C229,121 230,117 231.7,114.5 Z" fill="#B3D28B"/>
<path d="M237.9,141.7 C240,146 242,152 242.2,158.5 L225.5,158.5 C229,152 233,146 237.9,141.7 Z" fill="#5A8E40"/>
<path d="M230,158.5 C233,153 235,150 237,147 C236,152 236,155 237,158.5 Z" fill="#4A7F36" stroke="none"/>
<path d="M174,127 L172,116 M178,125 L178,112 M183,123 L185,111 M188,121 L191,112 M176,151 L180,143 M170,146 L168,139 M172,156 L176,149 M222,117 L223,110 M227,120 L229,110 M235,118 L239,110 M245,128 L247,120 M242,140 L246,134 M210,141 L209.5,151 M214,142 L214,152 M201,120 L198,116 M205,119 L204.5,115 M186,140 L184,134 M217,128 L216,134" fill="none" stroke-width="0.7"/>
</g>
<g stroke-linejoin="round">
<path d="M206.5,165 C206,180 206.5,200 208.5,223.5" fill="none" stroke="#7FA452" stroke-width="2.4"/>
<path d="M206,176 C198,172 192,170 188,168 M207,186 C216,180 228,176 234,180 C237,182 237,186 236.5,189 M208,172 C214,170 218,168 222,166 M208,204 C216,206 221,206 223,202 M185,183 C186,178 186,174 185,170 M199.5,206.8 C203,212 206,216 208,221.4 M207,213 C201,215 196,217 192,219 M209,197 C212,194 215,194 218,197" fill="none" stroke="#7FA452" stroke-width="1.3"/>
<path d="M163,166 L189,166 C188,171 184,175 178,176.5 C171,177.5 166,174 163,166 Z" fill="#7A9C4C" stroke="#587C36" stroke-width="0.5"/>
<path d="M164,166.5 C170,170 178,172 186,169" fill="none" stroke="#A4C076" stroke-width="0.6"/>
<path d="M222,166 L253.5,166 C252,171 246,175.5 238,176.5 C230,177 225,173 222,166 Z" fill="#86A852" stroke="#587C36" stroke-width="0.5"/>
<path d="M221.5,166 C222,172 225,177 229,177 C232.5,176.5 234,172 232.5,166 Z" fill="#B8D48C" stroke="#7EA655" stroke-width="0.5"/>
<path d="M226,168 C226,171 227,174 229,175" fill="none" stroke="#E4F0CC" stroke-width="1"/>
<path d="M192,166 C195,169.5 200,169.5 203,166 Z" fill="#B8D48A"/>
<path d="M201.5,177 C190,181 183,196 185.5,212.5 C197,208 204,193 201.5,177 Z" fill="#74963F" stroke="#567A34" stroke-width="0.6"/>
<path d="M201.5,177 C196,188 191,200 186,211 C192,206 198,196 201.5,177 Z" fill="#8CAC54"/>
<path d="M200.5,180 C196,192 190,203 186.5,211" fill="none" stroke="#5F8438" stroke-width="0.6"/>
<path d="M221,204 C232,199 248,203 258,219 C246,223 230,221 222,215 C219,212 219,207 221,204 Z" fill="#7E9E4A" stroke="#587C36" stroke-width="0.6"/>
<path d="M222,207 C234,208 246,212 256,218.5" fill="none" stroke="#A8C47A" stroke-width="0.8"/>
<path d="M160,223.8 C167,219.5 178,219.5 186,223.8 Z" fill="#7C9E4C"/>
<path d="M203,223.8 C208,220 216,220 222,223.8 Z" fill="#7C9E4C"/>
<path d="M183.3,185.0 L179.6,186.7 L178.9,188.2 L178.9,189.8 L178.9,191.3 L178.9,192.9 L178.9,194.4 L178.8,196.0 L178.8,197.5 L178.6,199.1 L178.5,200.7 L178.3,202.2 L178.1,203.8 L177.8,205.3 L177.5,206.9 L177.2,208.5 L176.8,210.0 L176.4,211.6 L175.9,213.1 L175.4,214.6 L174.8,216.2 L174.2,217.7 L173.6,219.2 L172.9,220.8 L172.1,222.3 L172.5,222.7 L173.9,221.6 L175.1,220.4 L176.4,219.1 L177.5,217.8 L178.6,216.4 L179.7,215.0 L180.6,213.5 L181.5,212.0 L182.4,210.4 L183.2,208.8 L183.9,207.2 L184.6,205.6 L185.2,203.9 L185.8,202.2 L186.3,200.5 L186.7,198.8 L187.1,197.1 L187.5,195.3 L187.7,193.6 L188.0,191.8 L188.1,190.1 L188.2,188.3 L187.5,186.6 L183.7,185.0 Z" fill="#C8323C" stroke="#8A1E24" stroke-width="0.5"/>
<path d="M183.5,185.0 L183.9,186.6 L184.0,188.3 L184.0,189.9 L183.9,191.6 L183.8,193.2 L183.6,194.9 L183.4,196.6 L183.1,198.2 L182.8,199.9 L182.5,201.5 L182.1,203.2 L181.7,204.8 L181.2,206.4 L180.6,208.0 L180.0,209.5 L179.4,211.1 L178.7,212.6 L178.0,214.1 L177.2,215.6 L176.3,217.0 L175.4,218.5 L174.4,219.8 L173.4,221.2 L172.3,222.5 L172.3,222.5 L173.7,221.4 L174.9,220.2 L176.2,219.0 L177.3,217.6 L178.4,216.3 L179.4,214.9 L180.4,213.4 L181.3,211.9 L182.2,210.3 L183.0,208.8 L183.7,207.2 L184.4,205.5 L185.0,203.9 L185.6,202.2 L186.1,200.5 L186.5,198.8 L186.9,197.0 L187.2,195.3 L187.5,193.5 L187.7,191.8 L187.9,190.0 L187.9,188.3 L187.2,186.6 L183.5,185.0 Z" fill="#A8242C"/>
<path d="M210.3,175.5 L206.1,177.8 L205.4,180.0 L205.6,182.1 L205.9,184.2 L206.3,186.2 L206.8,188.2 L207.3,190.2 L207.8,192.1 L208.5,194.0 L209.1,195.8 L209.8,197.6 L210.6,199.4 L211.4,201.1 L212.2,202.7 L213.1,204.3 L214.1,205.9 L215.0,207.4 L216.0,208.8 L217.1,210.2 L218.1,211.5 L219.2,212.8 L220.4,214.0 L221.5,215.1 L222.8,216.1 L223.2,215.9 L222.7,214.3 L222.2,212.8 L221.7,211.3 L221.2,209.8 L220.8,208.3 L220.3,206.7 L219.9,205.1 L219.5,203.6 L219.1,201.9 L218.7,200.3 L218.4,198.7 L218.0,197.0 L217.7,195.3 L217.5,193.6 L217.2,191.9 L217.0,190.1 L216.8,188.3 L216.6,186.5 L216.4,184.7 L216.3,182.9 L216.2,181.0 L216.0,179.2 L215.1,177.3 L210.7,175.5 Z" fill="#C8323C" stroke="#8A1E24" stroke-width="0.5"/>
<path d="M210.5,175.5 L211.0,177.5 L211.2,179.5 L211.4,181.5 L211.6,183.5 L211.9,185.4 L212.1,187.3 L212.5,189.2 L212.8,191.0 L213.2,192.8 L213.7,194.6 L214.2,196.4 L214.7,198.1 L215.2,199.8 L215.8,201.4 L216.4,203.0 L217.0,204.6 L217.7,206.2 L218.4,207.7 L219.1,209.2 L219.8,210.6 L220.6,212.0 L221.4,213.4 L222.2,214.7 L223.0,216.0 L223.0,216.0 L222.5,214.5 L222.0,213.0 L221.5,211.5 L221.0,209.9 L220.5,208.4 L220.1,206.8 L219.7,205.3 L219.2,203.7 L218.8,202.0 L218.5,200.4 L218.1,198.7 L217.8,197.1 L217.5,195.4 L217.2,193.7 L217.0,191.9 L216.7,190.2 L216.5,188.4 L216.3,186.6 L216.2,184.8 L216.1,182.9 L215.9,181.1 L215.8,179.2 L214.9,177.3 L210.5,175.5 Z" fill="#A8242C"/>
<path d="M236.0,188.5 L233.0,190.3 L232.5,192.1 L232.6,193.8 L232.9,195.5 L233.2,197.1 L233.5,198.8 L233.9,200.3 L234.3,201.9 L234.8,203.4 L235.3,204.9 L235.8,206.3 L236.3,207.7 L236.8,209.1 L237.4,210.5 L238.0,211.8 L238.6,213.1 L239.2,214.4 L239.8,215.6 L240.4,216.8 L241.0,218.0 L241.6,219.2 L242.3,220.3 L242.9,221.5 L243.6,222.6 L244.0,222.4 L244.0,221.1 L243.9,219.8 L243.7,218.5 L243.6,217.2 L243.4,215.9 L243.2,214.5 L243.0,213.2 L242.7,211.8 L242.5,210.4 L242.3,209.1 L242.1,207.7 L241.8,206.3 L241.6,204.8 L241.4,203.4 L241.2,202.0 L241.0,200.5 L240.9,199.1 L240.7,197.6 L240.6,196.1 L240.5,194.6 L240.4,193.1 L240.2,191.5 L239.6,190.0 L236.4,188.5 Z" fill="#C8323C" stroke="#8A1E24" stroke-width="0.5"/>
<path d="M236.2,188.5 L236.6,190.2 L236.7,191.8 L236.9,193.4 L237.0,195.0 L237.2,196.6 L237.5,198.1 L237.7,199.6 L238.0,201.1 L238.3,202.6 L238.6,204.1 L239.0,205.5 L239.3,206.9 L239.7,208.3 L240.1,209.7 L240.4,211.1 L240.8,212.4 L241.2,213.7 L241.6,215.0 L242.0,216.3 L242.4,217.6 L242.8,218.8 L243.1,220.1 L243.5,221.3 L243.8,222.5 L243.8,222.5 L243.8,221.2 L243.6,219.9 L243.5,218.6 L243.3,217.3 L243.1,216.0 L242.9,214.6 L242.7,213.3 L242.5,211.9 L242.3,210.5 L242.0,209.1 L241.8,207.7 L241.6,206.3 L241.4,204.9 L241.2,203.5 L241.0,202.0 L240.8,200.6 L240.6,199.1 L240.5,197.6 L240.3,196.1 L240.2,194.6 L240.1,193.1 L240.0,191.6 L239.3,190.0 L236.2,188.5 Z" fill="#A8242C"/>
<path d="M223.3,201.0 L219.7,202.4 L219.0,203.5 L219.1,204.6 L219.3,205.7 L219.5,206.8 L219.7,207.9 L219.9,208.9 L220.1,210.0 L220.3,211.0 L220.6,212.0 L220.9,213.0 L221.1,213.9 L221.4,214.9 L221.7,215.8 L222.0,216.7 L222.3,217.6 L222.6,218.4 L223.0,219.3 L223.3,220.1 L223.7,220.9 L224.0,221.6 L224.4,222.4 L224.8,223.1 L225.3,223.8 L225.7,223.8 L226.1,223.0 L226.3,222.2 L226.6,221.4 L226.8,220.6 L226.9,219.7 L227.1,218.8 L227.3,218.0 L227.4,217.1 L227.6,216.1 L227.7,215.2 L227.8,214.2 L227.9,213.3 L228.0,212.3 L228.0,211.3 L228.1,210.3 L228.2,209.3 L228.2,208.2 L228.2,207.2 L228.3,206.1 L228.3,205.1 L228.3,204.0 L228.2,202.9 L227.5,201.9 L223.7,201.0 Z" fill="#C8323C" stroke="#8A1E24" stroke-width="0.5"/>
<path d="M223.5,201.0 L223.9,202.1 L224.1,203.2 L224.1,204.3 L224.2,205.4 L224.3,206.5 L224.4,207.5 L224.4,208.6 L224.5,209.6 L224.6,210.6 L224.7,211.6 L224.7,212.6 L224.8,213.6 L224.9,214.5 L225.0,215.5 L225.0,216.4 L225.1,217.3 L225.2,218.2 L225.2,219.0 L225.3,219.9 L225.3,220.7 L225.4,221.5 L225.4,222.3 L225.5,223.1 L225.5,223.8 L225.5,223.8 L225.8,223.0 L226.1,222.2 L226.3,221.4 L226.5,220.6 L226.7,219.7 L226.9,218.9 L227.0,218.0 L227.2,217.1 L227.3,216.2 L227.4,215.2 L227.5,214.3 L227.6,213.3 L227.7,212.3 L227.8,211.3 L227.9,210.3 L227.9,209.3 L228.0,208.3 L228.0,207.2 L228.0,206.2 L228.0,205.1 L228.1,204.0 L228.0,202.9 L227.2,201.9 L223.5,201.0 Z" fill="#A8242C"/>
<path d="M187,223.8 C187,220 190,218.5 192,218.5 C195,218.5 197,220 197,223.8 Z" fill="#C8323C"/>
<path d="M190,223.5 L190.5,221 M193.5,223.5 L193.5,221" fill="none" stroke="#F3D2D4" stroke-width="1"/>
<path d="M181,189 C181,194 180.5,198 179.5,202 M185,188 C185.5,191 185.5,194 185,196 M208,179 C207.5,184 208,188 209,192 M212.5,179 C213,182.5 213,185 212.8,188 M234.5,192 C234.5,195 234.5,197 235,199 M237.5,192 C237.8,194 237.8,196 237.5,197 M221,205 C221,208 221.5,211 222,214 M225.5,205 C225.8,207 225.8,209 225.5,211 M178,210 C177,214 175.5,217 174,219 M240,205 C241,209 242,212 243,215" fill="none" stroke="#F3D0D4" stroke-width="1.3" stroke-linecap="round"/>
<path d="M179.5,186 L188,186 L184,181 Z M206.5,176 L215,176 L210.5,170.5 Z M232.8,189.2 L240,189.2 L236.4,185 Z M219.5,201.8 L228,201.8 L223.8,197 Z" fill="#6A9A3E"/>
</g>
<defs><linearGradient id="lf" x1="0" y1="0" x2="0" y2="1"><stop offset="0" stop-color="#8AB088"/><stop offset="1" stop-color="#6A966C"/></linearGradient><linearGradient id="lf2" x1="0" y1="1" x2="0" y2="0"><stop offset="0" stop-color="#5E8C62"/><stop offset="1" stop-color="#9CC096"/></linearGradient><linearGradient id="stm" x1="0" y1="0" x2="0" y2="1"><stop offset="0" stop-color="#5A8E62"/><stop offset="1" stop-color="#8CB888"/></linearGradient></defs>
<g stroke-linejoin="round">
<path d="M181,261 C176,257 170,253 166,249 C162,247 160,243 160,239 C157,237 156.5,233 158,229.5 C162,227.5 167,228 171,229.5 C175,230 177.5,233 178,237 C181,239 183,244 183,249 C184,253 183.5,258 181,261 Z" fill="url(#lf)" stroke="#6A946A" stroke-width="0.5"/>
<path d="M160,231 C167,240 174,250 181,259" fill="none" stroke="#B0D2A8" stroke-width="0.7"/>
<path d="M229,262 C232,256 236,250 240,246 C242,241 247,238 251,237 C254,235 258,235 260,237 C261,241 259,245 257,248 C256,252 252,256 248,257 C244,261 236,263 229,262 Z" fill="url(#lf)" stroke="#6A946A" stroke-width="0.5"/>
<path d="M230,261 C240,254 250,245 259,237" fill="none" stroke="#B0D2A8" stroke-width="0.7"/>
<path d="M149.5,294.5 C149.5,290 151,287 155,285 C155.5,281 159,277 163,277 C165,273 169,270.5 173,271.5 C177,269 183,269.5 186,272.5 C190,272.5 194,276 194,280 C197,284 198,290 197.5,294.5 Z" fill="url(#lf2)" stroke="#6A946A" stroke-width="0.5"/>
<path d="M153,293 C164,285 178,281 194,282 M168,292 C170,287 173,283 176,281 M182,290 C184,286 186,283 188,282" fill="none" stroke="#B0D2A8" stroke-width="0.7"/>
<path d="M213,288 C216,282 220,278 226,275 C230,271 236,269 241,268 C244,267 247,268 248,269 C248,273 246,276 243,278 C240,282 236,284 232,285 C226,288 220,289 213,288 Z" fill="url(#lf)" stroke="#6A946A" stroke-width="0.5"/>
<path d="M215,287 C225,281 236,274 247,269" fill="none" stroke="#B0D2A8" stroke-width="0.7"/>
<path d="M226,294.5 C230,290 236,287 242,285 C246,283 249,283 251,283 C251,286 249,289 246,291 C243,293 240,294 238,294.5 Z" fill="url(#lf)" stroke="#6A946A" stroke-width="0.5"/>
<path d="M228,294 C236,290 244,286 250,284" fill="none" stroke="#B0D2A8" stroke-width="0.6"/>
<path d="M195,266 L213,266 C211,276 211,286 213,294.5 L197,294.5 C198,286 198,276 195,266 Z" fill="url(#stm)"/>
<path d="M199.5,272 C200.5,282 200.5,289 199.5,294" fill="none" stroke="#A8CCA0" stroke-width="1.4"/>
<g fill="#2A7A4E"><ellipse cx="206.0" cy="251.0" rx="26.0" ry="18.0"/><circle cx="232.0" cy="251.0" r="4.2"/><circle cx="230.9" cy="256.1" r="4.2"/><circle cx="227.9" cy="260.7" r="4.2"/><circle cx="223.0" cy="264.6" r="4.2"/><circle cx="216.8" cy="267.4" r="4.2"/><circle cx="209.7" cy="268.8" r="4.2"/><circle cx="202.3" cy="268.8" r="4.2"/><circle cx="195.2" cy="267.4" r="4.2"/><circle cx="189.0" cy="264.6" r="4.2"/><circle cx="184.1" cy="260.7" r="4.2"/><circle cx="181.1" cy="256.1" r="4.2"/><circle cx="180.0" cy="251.0" r="4.2"/><circle cx="181.1" cy="245.9" r="4.2"/><circle cx="184.1" cy="241.3" r="4.2"/><circle cx="189.0" cy="237.4" r="4.2"/><circle cx="195.2" cy="234.6" r="4.2"/><circle cx="202.3" cy="233.2" r="4.2"/><circle cx="209.7" cy="233.2" r="4.2"/><circle cx="216.8" cy="234.6" r="4.2"/><circle cx="223.0" cy="237.4" r="4.2"/><circle cx="227.9" cy="241.3" r="4.2"/><circle cx="230.9" cy="245.9" r="4.2"/></g>
<g fill="#2A7A4E"><ellipse cx="183.0" cy="263.0" rx="7.0" ry="6.0"/><circle cx="190.0" cy="263.0" r="3.0"/><circle cx="188.4" cy="266.9" r="3.0"/><circle cx="184.2" cy="268.9" r="3.0"/><circle cx="179.5" cy="268.2" r="3.0"/><circle cx="176.4" cy="265.1" r="3.0"/><circle cx="176.4" cy="260.9" r="3.0"/><circle cx="179.5" cy="257.8" r="3.0"/><circle cx="184.2" cy="257.1" r="3.0"/><circle cx="188.4" cy="259.1" r="3.0"/></g>
<g fill="#3A8A5C"><ellipse cx="193.0" cy="246.0" rx="11.0" ry="10.0"/><circle cx="204.0" cy="246.0" r="3.2"/><circle cx="202.5" cy="251.0" r="3.2"/><circle cx="198.5" cy="254.7" r="3.2"/><circle cx="193.0" cy="256.0" r="3.2"/><circle cx="187.5" cy="254.7" r="3.2"/><circle cx="183.5" cy="251.0" r="3.2"/><circle cx="182.0" cy="246.0" r="3.2"/><circle cx="183.5" cy="241.0" r="3.2"/><circle cx="187.5" cy="237.3" r="3.2"/><circle cx="193.0" cy="236.0" r="3.2"/><circle cx="198.5" cy="237.3" r="3.2"/><circle cx="202.5" cy="241.0" r="3.2"/></g>
<g fill="#5C9E72"><ellipse cx="192.5" cy="244.5" rx="10.0" ry="9.0"/><circle cx="202.5" cy="244.5" r="3.0"/><circle cx="200.9" cy="249.4" r="3.0"/><circle cx="196.7" cy="252.7" r="3.0"/><circle cx="191.1" cy="253.4" r="3.0"/><circle cx="186.0" cy="251.3" r="3.0"/><circle cx="182.9" cy="247.0" r="3.0"/><circle cx="182.9" cy="242.0" r="3.0"/><circle cx="186.0" cy="237.7" r="3.0"/><circle cx="191.1" cy="235.6" r="3.0"/><circle cx="196.7" cy="236.3" r="3.0"/><circle cx="200.9" cy="239.6" r="3.0"/></g>
<g fill="#70AC82"><ellipse cx="192.0" cy="243.0" rx="8.0" ry="7.0"/><circle cx="200.0" cy="243.0" r="2.8"/><circle cx="198.5" cy="247.1" r="2.8"/><circle cx="194.5" cy="249.7" r="2.8"/><circle cx="189.5" cy="249.7" r="2.8"/><circle cx="185.5" cy="247.1" r="2.8"/><circle cx="184.0" cy="243.0" r="2.8"/><circle cx="185.5" cy="238.9" r="2.8"/><circle cx="189.5" cy="236.3" r="2.8"/><circle cx="194.5" cy="236.3" r="2.8"/><circle cx="198.5" cy="238.9" r="2.8"/></g>
<g fill="#4C9668"><ellipse cx="184.0" cy="262.0" rx="5.0" ry="4.5"/><circle cx="189.0" cy="262.0" r="2.2"/><circle cx="187.5" cy="265.2" r="2.2"/><circle cx="184.0" cy="266.5" r="2.2"/><circle cx="180.5" cy="265.2" r="2.2"/><circle cx="179.0" cy="262.0" r="2.2"/><circle cx="180.5" cy="258.8" r="2.2"/><circle cx="184.0" cy="257.5" r="2.2"/><circle cx="187.5" cy="258.8" r="2.2"/></g>
<g fill="#64A478"><ellipse cx="183.5" cy="261.0" rx="3.5" ry="3.0"/><circle cx="187.0" cy="261.0" r="1.8"/><circle cx="185.7" cy="263.3" r="1.8"/><circle cx="182.7" cy="263.9" r="1.8"/><circle cx="180.3" cy="262.3" r="1.8"/><circle cx="180.3" cy="259.7" r="1.8"/><circle cx="182.7" cy="258.1" r="1.8"/><circle cx="185.7" cy="258.7" r="1.8"/></g>
<g fill="#3A8C5C"><ellipse cx="215.5" cy="248.0" rx="5.0" ry="13.0"/><circle cx="220.5" cy="248.0" r="2.6"/><circle cx="219.8" cy="254.5" r="2.6"/><circle cx="218.0" cy="259.3" r="2.6"/><circle cx="215.5" cy="261.0" r="2.6"/><circle cx="213.0" cy="259.3" r="2.6"/><circle cx="211.2" cy="254.5" r="2.6"/><circle cx="210.5" cy="248.0" r="2.6"/><circle cx="211.2" cy="241.5" r="2.6"/><circle cx="213.0" cy="236.7" r="2.6"/><circle cx="215.5" cy="235.0" r="2.6"/><circle cx="218.0" cy="236.7" r="2.6"/><circle cx="219.8" cy="241.5" r="2.6"/></g>
<g fill="#62A476"><ellipse cx="215.0" cy="247.0" rx="3.8" ry="11.0"/><circle cx="218.8" cy="247.0" r="2.4"/><circle cx="218.1" cy="253.5" r="2.4"/><circle cx="216.2" cy="257.5" r="2.4"/><circle cx="213.8" cy="257.5" r="2.4"/><circle cx="211.9" cy="253.5" r="2.4"/><circle cx="211.2" cy="247.0" r="2.4"/><circle cx="211.9" cy="240.5" r="2.4"/><circle cx="213.8" cy="236.5" r="2.4"/><circle cx="216.2" cy="236.5" r="2.4"/><circle cx="218.1" cy="240.5" r="2.4"/></g>
<g fill="#348656"><ellipse cx="228.5" cy="251.0" rx="4.5" ry="13.0"/><circle cx="233.0" cy="251.0" r="2.5"/><circle cx="232.4" cy="257.5" r="2.5"/><circle cx="230.8" cy="262.3" r="2.5"/><circle cx="228.5" cy="264.0" r="2.5"/><circle cx="226.2" cy="262.3" r="2.5"/><circle cx="224.6" cy="257.5" r="2.5"/><circle cx="224.0" cy="251.0" r="2.5"/><circle cx="224.6" cy="244.5" r="2.5"/><circle cx="226.2" cy="239.7" r="2.5"/><circle cx="228.5" cy="238.0" r="2.5"/><circle cx="230.8" cy="239.7" r="2.5"/><circle cx="232.4" cy="244.5" r="2.5"/></g>
<g fill="#569E6E"><ellipse cx="228.0" cy="251.0" rx="3.2" ry="10.5"/><circle cx="231.2" cy="251.0" r="2.2"/><circle cx="230.6" cy="257.2" r="2.2"/><circle cx="229.0" cy="261.0" r="2.2"/><circle cx="227.0" cy="261.0" r="2.2"/><circle cx="225.4" cy="257.2" r="2.2"/><circle cx="224.8" cy="251.0" r="2.2"/><circle cx="225.4" cy="244.8" r="2.2"/><circle cx="227.0" cy="241.0" r="2.2"/><circle cx="229.0" cy="241.0" r="2.2"/><circle cx="230.6" cy="244.8" r="2.2"/></g>
<g fill="#3E8C5C"><ellipse cx="206.0" cy="234.0" rx="6.0" ry="4.0"/><circle cx="212.0" cy="234.0" r="2.4"/><circle cx="210.6" cy="236.6" r="2.4"/><circle cx="207.0" cy="237.9" r="2.4"/><circle cx="203.0" cy="237.5" r="2.4"/><circle cx="200.4" cy="235.4" r="2.4"/><circle cx="200.4" cy="232.6" r="2.4"/><circle cx="203.0" cy="230.5" r="2.4"/><circle cx="207.0" cy="230.1" r="2.4"/><circle cx="210.6" cy="231.4" r="2.4"/></g>
<g fill="#62A276"><ellipse cx="205.0" cy="234.0" rx="4.5" ry="3.2"/><circle cx="209.5" cy="234.0" r="2.2"/><circle cx="208.2" cy="236.3" r="2.2"/><circle cx="205.0" cy="237.2" r="2.2"/><circle cx="201.8" cy="236.3" r="2.2"/><circle cx="200.5" cy="234.0" r="2.2"/><circle cx="201.8" cy="231.7" r="2.2"/><circle cx="205.0" cy="230.8" r="2.2"/><circle cx="208.2" cy="231.7" r="2.2"/></g>
<g fill="#378456"><ellipse cx="203.0" cy="265.0" rx="10.0" ry="5.0"/><circle cx="213.0" cy="265.0" r="2.2"/><circle cx="211.7" cy="267.5" r="2.2"/><circle cx="208.0" cy="269.3" r="2.2"/><circle cx="203.0" cy="270.0" r="2.2"/><circle cx="198.0" cy="269.3" r="2.2"/><circle cx="194.3" cy="267.5" r="2.2"/><circle cx="193.0" cy="265.0" r="2.2"/><circle cx="194.3" cy="262.5" r="2.2"/><circle cx="198.0" cy="260.7" r="2.2"/><circle cx="203.0" cy="260.0" r="2.2"/><circle cx="208.0" cy="260.7" r="2.2"/><circle cx="211.7" cy="262.5" r="2.2"/></g>
<path d="M208,231 C205,240 207,250 205,262 M221,236 C224,246 223,256 220,266 M187,256 C192,261 198,263 204,261 M234,246 C236,254 235,262 232,268" fill="none" stroke="#22693F" stroke-width="1"/>
</g>
<defs><radialGradient id="pot" cx="0.42" cy="0.38" r="0.68"><stop offset="0" stop-color="#DCC47E"/><stop offset="0.55" stop-color="#C6A860"/><stop offset="1" stop-color="#8E7242"/></radialGradient><linearGradient id="root" x1="0" y1="0" x2="1" y2="0"><stop offset="0" stop-color="#6A4C36"/><stop offset="0.45" stop-color="#9C7858"/><stop offset="1" stop-color="#73543B"/></linearGradient><clipPath id="soilclip"><path d="M153.3,297.5 L276,297.5 L276,389.5 L116,389.5 L116,373.5 L153.3,373.5 Z"/></clipPath></defs>
<g clip-path="url(#soilclip)">
<rect x="110" y="297" width="170" height="95" fill="#7C5B47"/>
<path d="M153,297 L276,297 L276,303 C273,306 269,306 266,303 C263,306 259,306 256,303 C253,306 249,306 246,303 C243,306 239,306 236,303 C233,306 229,306 226,303 L153,303 Z" fill="#6C4E3C"/>
<path d="M226,306 C240,310 258,308 276,310 L276,330 C262,330 248,326 236,322 Z" fill="#8A6A55"/>
<path d="M236,322 C248,326 262,330 276,330 L276,360 C262,356 250,350 240,345 Z" fill="#84644F"/>
<ellipse cx="160" cy="306" rx="4" ry="3" fill="#9A7B64" stroke="#5E4434" stroke-width="0.5"/>
<ellipse cx="173" cy="302" rx="3" ry="2.2" fill="#9A7B64" stroke="#5E4434" stroke-width="0.5"/>
<ellipse cx="255" cy="306" rx="3" ry="2" fill="#9A7B64" stroke="#5E4434" stroke-width="0.5"/>
<ellipse cx="268" cy="311" rx="2.5" ry="3.5" fill="#9A7B64" stroke="#5E4434" stroke-width="0.5"/>
<ellipse cx="163" cy="317" rx="3.5" ry="2.5" fill="#9A7B64" stroke="#5E4434" stroke-width="0.5"/>
<ellipse cx="270" cy="332" rx="2" ry="3" fill="#9A7B64" stroke="#5E4434" stroke-width="0.5"/>
<ellipse cx="266" cy="346" rx="1.5" ry="2" fill="#9A7B64" stroke="#5E4434" stroke-width="0.5"/>
<ellipse cx="124" cy="381" rx="3" ry="2" fill="#9A7B64" stroke="#5E4434" stroke-width="0.5"/>
<ellipse cx="250" cy="312" rx="2" ry="1.5" fill="#9A7B64" stroke="#5E4434" stroke-width="0.5"/>
<ellipse cx="182" cy="306" rx="2.5" ry="2" fill="#9A7B64" stroke="#5E4434" stroke-width="0.5"/>
<ellipse cx="262" cy="302" rx="3" ry="2" fill="#9A7B64" stroke="#5E4434" stroke-width="0.5"/>
<circle cx="259.0" cy="367.1" r="0.6" fill="#5A4030"/>
<circle cx="236.8" cy="332.6" r="0.6" fill="#5A4030"/>
<circle cx="245.8" cy="320.2" r="0.6" fill="#5A4030"/>
<circle cx="249.6" cy="342.4" r="0.6" fill="#5A4030"/>
<circle cx="274.4" cy="342.0" r="0.6" fill="#5A4030"/>
<circle cx="236.4" cy="380.0" r="0.6" fill="#5A4030"/>
<circle cx="243.7" cy="332.4" r="0.6" fill="#5A4030"/>
<circle cx="248.4" cy="325.7" r="0.6" fill="#5A4030"/>
<circle cx="246.2" cy="364.6" r="0.6" fill="#5A4030"/>
<circle cx="244.9" cy="372.8" r="0.6" fill="#5A4030"/>
<circle cx="238.6" cy="375.6" r="0.6" fill="#5A4030"/>
<circle cx="240.8" cy="359.9" r="0.6" fill="#5A4030"/>
<circle cx="250.8" cy="340.4" r="0.6" fill="#5A4030"/>
<circle cx="260.2" cy="325.7" r="0.6" fill="#5A4030"/>
<circle cx="273.3" cy="378.0" r="0.6" fill="#5A4030"/>
<circle cx="241.2" cy="380.7" r="0.6" fill="#5A4030"/>
<circle cx="266.4" cy="360.6" r="0.6" fill="#5A4030"/>
<circle cx="265.6" cy="369.0" r="0.6" fill="#5A4030"/>
<path d="M236,316 C246,310 256,308 266,306 M240,318 C250,322 258,330 262,340 M162,320 C170,316 178,318 184,316 M120,384 C126,380 134,380 140,384 M132,388 C136,384 142,382 148,382" fill="none" stroke="#5A4030" stroke-width="0.6"/>
<ellipse cx="175" cy="339.5" rx="19" ry="19.5" fill="url(#pot)" stroke="#6A4E32" stroke-width="0.6"/>
<circle cx="168.0" cy="339.8" r="0.5" fill="#8E7040"/>
<circle cx="171.0" cy="335.7" r="0.5" fill="#8E7040"/>
<circle cx="180.4" cy="328.6" r="0.5" fill="#8E7040"/>
<circle cx="166.3" cy="338.8" r="0.5" fill="#8E7040"/>
<circle cx="172.1" cy="330.2" r="0.5" fill="#8E7040"/>
<ellipse cx="190" cy="354" rx="16" ry="21" fill="url(#pot)" stroke="#6A4E32" stroke-width="0.6"/>
<circle cx="198.8" cy="346.6" r="0.5" fill="#8E7040"/>
<circle cx="180.0" cy="348.0" r="0.5" fill="#8E7040"/>
<circle cx="199.7" cy="355.3" r="0.5" fill="#8E7040"/>
<circle cx="193.0" cy="341.4" r="0.5" fill="#8E7040"/>
<circle cx="199.0" cy="350.6" r="0.5" fill="#8E7040"/>
<ellipse cx="236" cy="338" rx="13.5" ry="18" fill="url(#pot)" stroke="#6A4E32" stroke-width="0.6"/>
<circle cx="238.6" cy="340.1" r="0.5" fill="#8E7040"/>
<circle cx="229.2" cy="327.4" r="0.5" fill="#8E7040"/>
<circle cx="231.5" cy="343.9" r="0.5" fill="#8E7040"/>
<circle cx="238.7" cy="339.2" r="0.5" fill="#8E7040"/>
<circle cx="231.4" cy="336.8" r="0.5" fill="#8E7040"/>
<ellipse cx="247" cy="367" rx="16.5" ry="18.5" fill="url(#pot)" stroke="#6A4E32" stroke-width="0.6"/>
<circle cx="246.3" cy="375.7" r="0.5" fill="#8E7040"/>
<circle cx="258.3" cy="373.0" r="0.5" fill="#8E7040"/>
<circle cx="250.4" cy="364.2" r="0.5" fill="#8E7040"/>
<circle cx="236.5" cy="365.1" r="0.5" fill="#8E7040"/>
<circle cx="235.8" cy="369.1" r="0.5" fill="#8E7040"/>
<ellipse cx="179" cy="380" rx="19" ry="14" fill="url(#pot)" stroke="#6A4E32" stroke-width="0.6"/>
<circle cx="182.7" cy="376.1" r="0.5" fill="#8E7040"/>
<circle cx="179.2" cy="375.3" r="0.5" fill="#8E7040"/>
<circle cx="173.7" cy="374.6" r="0.5" fill="#8E7040"/>
<circle cx="181.6" cy="377.2" r="0.5" fill="#8E7040"/>
<circle cx="185.0" cy="377.2" r="0.5" fill="#8E7040"/>
<ellipse cx="222" cy="378" rx="12" ry="15" fill="url(#pot)" stroke="#6A4E32" stroke-width="0.6"/>
<circle cx="228.7" cy="380.5" r="0.5" fill="#8E7040"/>
<circle cx="224.1" cy="386.0" r="0.5" fill="#8E7040"/>
<circle cx="218.5" cy="385.7" r="0.5" fill="#8E7040"/>
<circle cx="219.6" cy="370.0" r="0.5" fill="#8E7040"/>
<circle cx="225.9" cy="383.5" r="0.5" fill="#8E7040"/>
<ellipse cx="223" cy="350" rx="8" ry="14" fill="url(#pot)" stroke="#6A4E32" stroke-width="0.6"/>
<circle cx="216.8" cy="351.0" r="0.5" fill="#8E7040"/>
<circle cx="225.1" cy="352.7" r="0.5" fill="#8E7040"/>
<circle cx="218.0" cy="350.6" r="0.5" fill="#8E7040"/>
<circle cx="222.2" cy="356.5" r="0.5" fill="#8E7040"/>
<circle cx="223.7" cy="338.9" r="0.5" fill="#8E7040"/>
<path d="M191.5,302 C198,297 212,297 216.5,302 C216,330 215,360 214.5,392 L193.5,392 C193,360 192,330 191.5,302 Z" fill="url(#root)" stroke="#573E2B" stroke-width="0.7"/>
<path d="M188,303 C194,298 200,302 199,310 C192,330 176,350 158,363 C156,358 159,350 164,340 C172,326 180,312 188,303 Z" fill="url(#root)" stroke="#573E2B" stroke-width="0.7"/>
<path d="M212,302 C218,298 225,302 227,310 C232,326 236,342 236,356 C234,358 230,352 226,344 C220,330 213,316 212,302 Z" fill="url(#root)" stroke="#573E2B" stroke-width="0.7"/>
<path d="M234,352 C240,364 246,376 251.6,388" fill="none" stroke="#7A5A40" stroke-width="2.2" stroke-linecap="round"/>
<path d="M196,318 L203,319 M199,336 L208,337 M198,356 L206,355 M202,374 L209,373 M205,310 L211,311 M184,318 L189,322 M176,332 L181,336 M168,346 L173,349 M218,318 L223,316 M222,332 L227,330 M228,346 L233,344" fill="none" stroke="#5A402E" stroke-width="0.7"/>
<path d="M236,362 C232,368 228,374 224,380 M244,378 C250,380 256,384 260,389 M182,318 C176,314 168,316 160,320" fill="none" stroke="#5E4434" stroke-width="0.6"/>
</g>
<path d="M246.6,44.6 L282.5,44.6 L282.5,84.6 L311,84.6" fill="none" stroke="#383838" stroke-width="1.05"/>
<path d="M242.9,44.6 L246.6,40.9 L250.29999999999998,44.6 L246.6,48.300000000000004 Z" fill="#000"/>
<path d="M318.3,84.6 L310.8,80.19999999999999 L310.8,89.0 Z" fill="#000"/>
<path d="M246.4,132 L279.4,132 L279.4,139.4 L305,139.4" fill="none" stroke="#383838" stroke-width="1.05"/>
<path d="M242.70000000000002,132 L246.4,128.3 L250.1,132 L246.4,135.7 Z" fill="#000"/>
<path d="M312.9,139.4 L305.4,135.0 L305.4,143.8 Z" fill="#000"/>
<path d="M212.4,197.2 L263,197.2 L263,192.9 L306,192.9" fill="none" stroke="#383838" stroke-width="1.05"/>
<path d="M208.70000000000002,197.2 L212.4,193.5 L216.1,197.2 L212.4,200.89999999999998 Z" fill="#000"/>
<path d="M314.1,192.9 L306.6,188.5 L306.6,197.3 Z" fill="#000"/>
<path d="M212.4,277.4 L263.5,277.4 L263.5,245.4 L307,245.4" fill="none" stroke="#383838" stroke-width="1.05"/>
<path d="M208.70000000000002,277.4 L212.4,273.7 L216.1,277.4 L212.4,281.09999999999997 Z" fill="#000"/>
<path d="M314.9,245.4 L307.4,241.0 L307.4,249.8 Z" fill="#000"/>
<path d="M237.2,329 L275.5,329 L275.5,296.2 L307,296.2" fill="none" stroke="#383838" stroke-width="1.05"/>
<path d="M233.5,329 L237.2,325.3 L240.89999999999998,329 L237.2,332.7 Z" fill="#000"/>
<path d="M314.9,296.2 L307.4,291.8 L307.4,300.59999999999997 Z" fill="#000"/>
<path d="M159.3,365.9 L237.5,365.9 L237.5,349.2 L307,349.2" fill="none" stroke="#383838" stroke-width="1.05"/>
<path d="M155.60000000000002,365.9 L159.3,362.2 L163.0,365.9 L159.3,369.59999999999997 Z" fill="#000"/>
<path d="M314.9,349.2 L307.4,344.8 L307.4,353.59999999999997 Z" fill="#000"/>
<path d="M155.39999999999998,51 L153.2,51 L153.2,96.5 L155.39999999999998,96.5 M143.5,73.7 L153.2,73.7" fill="none" stroke="#000" stroke-width="2"/>
<path d="M154.0,111 L151.8,111 L151.8,217 L154.0,217 M142,164 L151.8,164" fill="none" stroke="#000" stroke-width="2"/>
<path d="M155.7,248 L153.5,248 L153.5,374.6 L155.7,374.6 M144.4,312 L153.5,312" fill="none" stroke="#000" stroke-width="2"/>
<text transform="translate(131,50) rotate(90)" font-size="14.5" textLength="46.5" lengthAdjust="spacingAndGlyphs">SeMet,</text>
<text transform="translate(114,50) rotate(90)" font-size="14.5" textLength="47" lengthAdjust="spacingAndGlyphs">SeCys<tspan font-size="10" dy="3">2</tspan></text>
<text transform="translate(131.3,116.8) rotate(90)" font-size="15" textLength="104.5" lengthAdjust="spacingAndGlyphs">SeMet, SeCys<tspan font-size="9" dy="3">2</tspan><tspan dy="-3">,</tspan></text>
<text transform="translate(114,144.7) rotate(90)" font-size="15" textLength="49" lengthAdjust="spacingAndGlyphs">Se (VI)</text>
<text transform="translate(131,238.6) rotate(90)" font-size="15" textLength="117" lengthAdjust="spacingAndGlyphs">SeMet, MeSeCys</text>
<text transform="translate(114,244.6) rotate(90)" font-size="15" textLength="106" lengthAdjust="spacingAndGlyphs">SeCys<tspan font-size="9" dy="3">2</tspan><tspan dy="-3">, Se (VI)</tspan></text>
<text transform="translate(82.6,82) rotate(90)" font-size="19.5" textLength="277" lengthAdjust="spacingAndGlyphs">Edible parts of Se-enriched plant</text>
<text transform="translate(62,142.7) rotate(90)" font-size="19.5" textLength="154" lengthAdjust="spacingAndGlyphs">with Se speciation</text>
</svg></body></html>
